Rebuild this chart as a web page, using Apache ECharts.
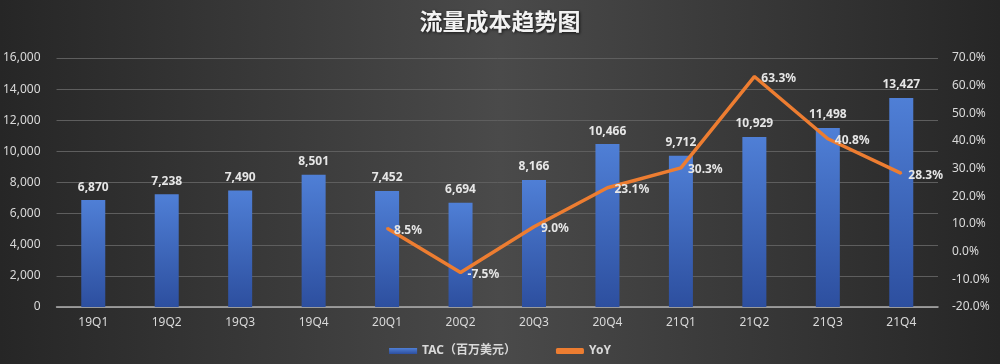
<!DOCTYPE html>
<html><head><meta charset="utf-8">
<script src="https://cdn.jsdelivr.net/npm/echarts@6/dist/echarts.min.js"></script>
<style>html,body{margin:0;padding:0;background:#333}#c{width:1000px;height:364px}</style>
</head><body><div id="c"></div>
<script>
const categories = ['19Q1','19Q2','19Q3','19Q4','20Q1','20Q2','20Q3','20Q4','21Q1','21Q2','21Q3','21Q4'];
const tac = [6870,7238,7490,8501,7452,6694,8166,10466,9712,10929,11498,13427];
const yoy = [null,null,null,null,8.5,-7.5,9.0,23.1,30.3,63.3,40.8,28.3];
const titleText = '流量成本趋势图';
const seriesNames = ['TAC（百万美元）','YoY'];

const FF = '"Noto Sans", "Noto Sans CJK SC", sans-serif';
const chart = echarts.init(document.getElementById('c'));
chart.setOption({
  backgroundColor: new echarts.graphic.LinearGradient(0, 0, 1, 0, [
    {offset:0, color:'#262626'},
    {offset:0.5, color:'#4a4a4a'},
    {offset:1, color:'#262626'}
  ]),
  animation: false,
  title: {
    text: titleText, left: 'center', top: 5,
    textStyle: {color:'#f2f2f2', fontSize: 23, fontWeight:'bold', fontFamily:'"Noto Sans CJK SC", sans-serif',
      textShadowColor:'rgba(0,0,0,0.7)', textShadowBlur:3, textShadowOffsetX:1, textShadowOffsetY:1}
  },
  legend: {
    bottom: 2, left: 'center', itemGap: 40, itemWidth: 28, itemHeight: 6,
    textStyle: {color:'#d9d9d9', fontSize: 12, fontWeight:'bold', fontFamily: FF},
    data: [{name: seriesNames[0], icon:'rect'}, {name: seriesNames[1], icon:'roundRect'}]
  },
  grid: {left: 55, right: 62, top: 58, bottom: 57},
  xAxis: {
    type: 'category', data: categories,
    axisLine: {lineStyle: {color:'#b0b0b0', width: 1.5}},
    axisTick: {show:false},
    axisLabel: {color:'#d9d9d9', fontSize: 12, fontFamily: FF, margin: 10}
  },
  yAxis: [{
    type:'value', min:0, max:16000, interval:2000,
    axisLine:{show:false}, axisTick:{show:false},
    splitLine:{lineStyle:{color:'#5e5e5e', width:1}},
    axisLabel:{color:'#d9d9d9', fontSize:12, fontFamily: FF, margin: 16,
      formatter: v => v.toLocaleString('en-US')}
  },{
    type:'value', min:-20, max:70, interval:10,
    axisLine:{show:false}, axisTick:{show:false}, splitLine:{show:false},
    axisLabel:{color:'#d9d9d9', fontSize:12, fontFamily: FF, margin: 14, formatter: v => v.toFixed(1)+'%'}
  }],
  series: [{
    name: seriesNames[0], type:'bar', data: tac, barWidth: 24,
    itemStyle: {color: new echarts.graphic.LinearGradient(0,0,0,1,[
      {offset:0, color:'#4f7fd6'}, {offset:1, color:'#2d4f9f'}])},
    label: {show:true, position:'top', distance: 7, color:'#e6e6e6', fontSize: 12, fontWeight:'bold', fontFamily: FF,
      formatter: p => p.value.toLocaleString('en-US')}
  },{
    name: seriesNames[1], type:'line', yAxisIndex:1, data: yoy,
    symbol:'circle', symbolSize: 2, showSymbol: true, color:'#ed7d31',
    itemStyle:{color:'#ed7d31'},
    lineStyle:{color:'#ed7d31', width:3.5},
    label:{show:true, position:'right', distance: 6, offset:[0,2], color:'#e6e6e6', fontSize:12, fontWeight:'bold', fontFamily: FF,
      formatter: p => p.value.toFixed(1)+'%'}
  }]
});
</script></body></html>
